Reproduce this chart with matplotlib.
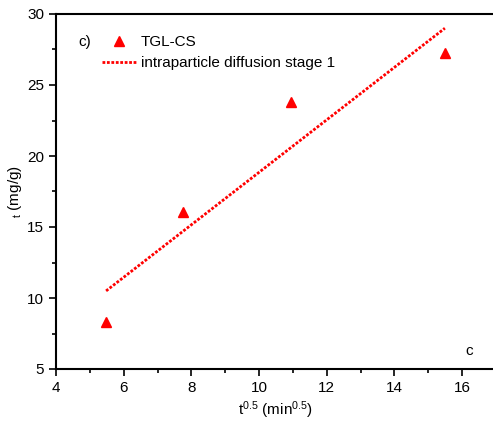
import numpy as np
import matplotlib
matplotlib.use("Agg")
import matplotlib.pyplot as plt
from matplotlib.ticker import MultipleLocator

plt.rcParams["font.family"] = ["Liberation Sans", "DejaVu Sans"]
plt.rcParams["mathtext.fontset"] = "custom"
plt.rcParams["mathtext.rm"] = "Liberation Sans"
plt.rcParams["mathtext.it"] = "Liberation Sans"

# measured points (t^0.5 vs qt)
t_sqrt = [5.48, 7.75, 10.95, 15.49]
qt = [8.3, 16.05, 23.8, 27.25]

# intraparticle diffusion stage 1 fit line (end points)
fit_x = [5.48, 15.49]
fit_y = [10.5, 29.0]

fig = plt.figure(figsize=(4.93, 4.30), dpi=100)
ax = fig.add_axes([56 / 493, 61 / 430, 440 / 493, 355 / 430])

ax.plot(t_sqrt, qt, linestyle="", marker="^", color="#ff0000", markersize=7,
        label="TGL-CS")
ax.plot(fit_x, fit_y, linestyle=(0, (1, 0.6)), color="#ff0000", linewidth=2,
        label="intraparticle diffusion stage 1")

ax.set_xlim(4, 17)
ax.set_ylim(5, 30)
ax.xaxis.set_major_locator(MultipleLocator(2))
ax.xaxis.set_minor_locator(MultipleLocator(1))
ax.yaxis.set_major_locator(MultipleLocator(5))
ax.yaxis.set_minor_locator(MultipleLocator(2.5))
ax.tick_params(which="both", direction="out", labelsize=11, width=1.2)
ax.tick_params(which="major", length=5)
ax.tick_params(which="minor", length=3)
for s in ax.spines.values():
    s.set_linewidth(1.5)

ax.set_xlabel(r"t$^{\mathrm{0.5}}$ (min$^{\mathrm{0.5}}$)", fontsize=11, labelpad=3)
ax.set_ylabel(r"$_{\mathrm{t}}$ (mg/g)", fontsize=11, labelpad=2)

ax.text(4.85, 28.0, "c)", fontsize=11, ha="center", va="center")
ax.text(16.2, 6.3, "c", fontsize=11, ha="center", va="center")

ax.legend(loc="upper left", bbox_to_anchor=(0.09, 0.957), frameon=False,
          fontsize=11, handlelength=2.3, handletextpad=0.25, labelspacing=0.45,
          borderaxespad=0)

fig.savefig("out.png", dpi=100)
